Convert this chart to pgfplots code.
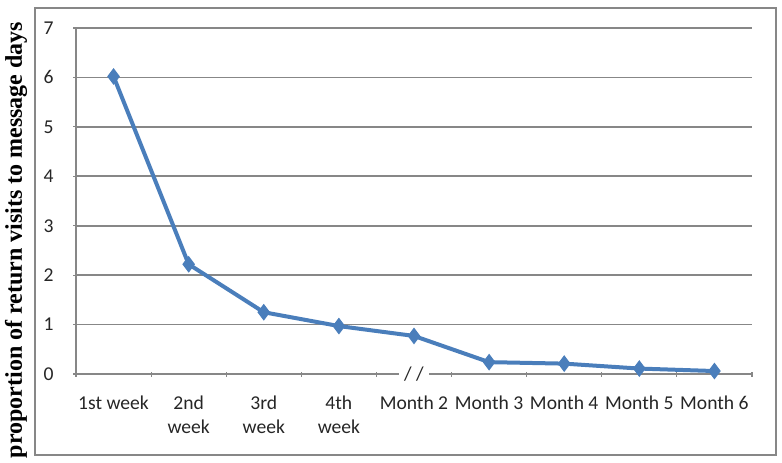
\documentclass[border=0pt]{standalone}
\usepackage{pgfplots}
\pgfplotsset{compat=1.18}
\usepackage{fontspec}
\setmainfont{Carlito}
\newfontfamily\tnr{Liberation Serif}
\definecolor{lineblue}{HTML}{4A7EBB}
\definecolor{gridgray}{HTML}{878787}
\definecolor{labeltext}{HTML}{262626}

\begin{document}
\begin{tikzpicture}
  % outer chart frame and page size (1 px of the reference = 0.5pt)
  \useasboundingbox (-38pt,-44pt) rectangle (353pt,187pt);
  \draw[gridgray, line width=0.8pt] (-20.5pt,-40.5pt) rectangle (350pt,183pt);
  \begin{axis}[
      scale only axis,
      width=338pt, height=173pt,
      xmin=0.5, xmax=9.5,
      ymin=0, ymax=7,
      xtick={1,...,9},
      xticklabels={1st week, 2nd\\week, 3rd\\week, 4th\\week,
          Month 2, Month 3, Month 4, Month 5, Month 6},
      minor xtick={0.5,1.5,...,9.5},
      major x tick style={draw=none},
      minor tick length=2.5pt,
      ytick={0,1,...,7},
      major tick length=2.5pt,
      tick align=outside,
      tick style={gridgray, line width=0.6pt},
      axis x line=bottom, axis y line=left,
      axis line style={gridgray, line width=0.8pt, -},
      ymajorgrids,
      grid style={gridgray, line width=0.8pt},
      tick label style={font=\fontsize{9.8}{12}\selectfont, text=labeltext},
      xticklabel style={align=center, yshift=-6pt},
      yticklabel style={anchor=center, xshift=-12.5pt},
      /pgf/number format/assume math mode=true,
      clip=false,
    ]
    \addplot[lineblue, line width=2pt,
        mark=diamond*, mark size=3.8pt,
        mark options={fill=lineblue, draw=lineblue, line width=0.5pt}]
      coordinates {
        (1,6.02) (2,2.22) (3,1.25) (4,0.97) (5,0.77)
        (6,0.24) (7,0.21) (8,0.11) (9,0.06)
      };
    % axis break mark
    \node[fill=white, inner sep=1pt, minimum width=15pt, font=\fontsize{9.8}{12}\selectfont, text=labeltext]
      at (axis cs:5,0) {/\ /};
  \end{axis}
  \node[rotate=90, font=\tnr\bfseries\fontsize{12}{13}\selectfont] at (-30pt,67pt)
    {proportion of return visits to message days};
\end{tikzpicture}
\end{document}
